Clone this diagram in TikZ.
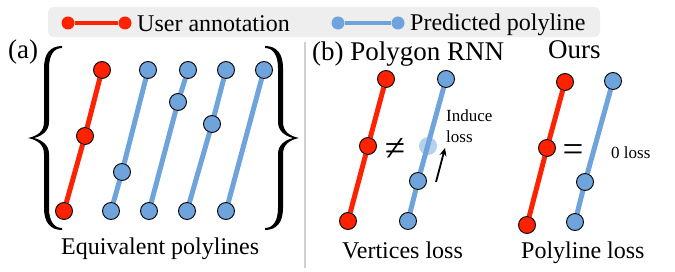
\documentclass[tikz,border=0pt]{standalone}
\usepackage{fontspec}
\setmainfont{Liberation Serif}
\usetikzlibrary{backgrounds,arrows.meta}
\definecolor{annred}{HTML}{FF2200}
\definecolor{predblue}{HTML}{6FA3DC}
\definecolor{legendgray}{HTML}{EEEEEE}
\definecolor{sepgray}{HTML}{D0D0D0}
\tikzset{
  dotbase/.style={circle, minimum size=17pt, inner sep=0pt, draw=black, line width=0.9pt},
  rdot/.style={dotbase, fill=annred},
  bdot/.style={dotbase, fill=predblue},
  lrdot/.style={circle, minimum size=13pt, inner sep=0pt, fill=annred},
  lbdot/.style={circle, minimum size=13pt, inner sep=0pt, fill=predblue},
  redline/.style={draw=annred, line width=5pt},
  blueline/.style={draw=predblue, line width=5pt},
  bigtxt/.style={font=\fontsize{27}{30}\selectfont, inner sep=0pt},
  midtxt/.style={font=\fontsize{24}{27}\selectfont, inner sep=0pt},
  smalltxt/.style={font=\fontsize{17}{20}\selectfont, inner sep=0pt},
  relsym/.style={font=\fontsize{37}{40}\selectfont, inner sep=0pt},
}
\def\mybracepath{(62,46) .. controls (50,46) and (44,54) .. (44,68) -- (44,122)
  .. controls (44,131) and (38,136) .. (28,138)
  .. controls (38,140) and (44,145) .. (44,154) -- (44,208)
  .. controls (44,222) and (50,230) .. (62,230)
  -- (62,228) .. controls (54,228) and (49,221) .. (49,208) -- (49,154)
  .. controls (49,145) and (42,140) .. (34,138)
  .. controls (42,136) and (49,131) .. (49,122) -- (49,68)
  .. controls (49,55) and (54,48) .. (62,48) -- cycle}
\begin{document}
\begin{tikzpicture}[x=1pt, y=-1pt]
\useasboundingbox (0,0) rectangle (675,272);

% legend
\node[lrdot] (l1) at (68,23) {};
\node[lrdot] (l2) at (125,23) {};
\node[midtxt, anchor=base west] (lt1) at (137,32) {User annotation};
\node[lbdot] (l3) at (338,23) {};
\node[lbdot] (l4) at (398,23) {};
\node[midtxt, anchor=base west] (lt2) at (410,31) {Predicted polyline};

% titles
\node[bigtxt, anchor=base west] (ta) at (8,59) {(a)};
\node[bigtxt, anchor=base west] (tb) at (312,61) {(b) Polygon RNN};
\node[bigtxt, anchor=base west] (to) at (548,59) {Ours};

% (a) polylines
\node[rdot] (r1) at (102,70) {};
\node[rdot] (r2) at (85,136) {};
\node[rdot] (r3) at (64,211) {};
\node[bdot] (p1a) at (148,70) {};
\node[bdot] (p1b) at (122,172) {};
\node[bdot] (p1c) at (111,211) {};
\node[bdot] (p2a) at (188,70) {};
\node[bdot] (p2b) at (178,102) {};
\node[bdot] (p2c) at (149,211) {};
\node[bdot] (p3a) at (226,70) {};
\node[bdot] (p3b) at (212,124) {};
\node[bdot] (p3c) at (187,211) {};
\node[bdot] (p4a) at (264,70) {};
\node[bdot] (p4c) at (226,211) {};

% braces
\fill[black] \mybracepath;
\begin{scope}[xshift=327pt, xscale=-1]
  \fill[black] \mybracepath;
\end{scope}

\node[midtxt, anchor=base west] (eq) at (61,255) {Equivalent polylines};

% separator
\draw[sepgray, line width=1.2pt] (305,42) -- (305,268);

% (b) Polygon RNN
\node[rdot] (b1r1) at (386,79) {};
\node[rdot] (b1r2) at (368,146) {};
\node[rdot] (b1r3) at (348,221) {};
\node[bdot] (b1p1) at (446,79) {};
\node[bdot] (b1p2) at (418,181) {};
\node[bdot] (b1p3) at (408,221) {};
\node[circle, minimum size=18pt, inner sep=0pt, fill=predblue, fill opacity=0.5] (ghost) at (428,146) {};
\node[relsym] (neq) at (395,149) {≠};
\coordinate (arrs) at (436,182);
\coordinate (arre) at (445,148);
\draw[-{Stealth[length=8pt,width=7pt]}, line width=1.8pt] (arrs) -- (arre);
\node[smalltxt, anchor=base west] (ind1) at (446,122) {Induce};
\node[smalltxt, anchor=base west] (ind2) at (446,143) {loss};
\node[midtxt, anchor=base west] (vl) at (342,259) {Vertices loss};

% (b) Ours
\node[rdot] (b2r1) at (565,82) {};
\node[rdot] (b2r2) at (547,148) {};
\node[rdot] (b2r3) at (527,225) {};
\node[bdot] (b2p1) at (613,81) {};
\node[bdot] (b2p2) at (585,182) {};
\node[bdot] (b2p3) at (575,222) {};
\node[relsym] (eqs) at (573,153) {=};
\node[smalltxt, anchor=base west] (zl) at (611,159) {0 loss};
\node[midtxt, anchor=base west] (pl) at (521,259) {Polyline loss};

\begin{scope}[on background layer]
  \fill[legendgray, rounded corners=5pt] (48,7) rectangle (600,37);
  \draw[draw=annred, line width=4pt] (l1) -- (l2);
  \draw[draw=predblue, line width=4pt] (l3) -- (l4);
  \draw[redline] (r1) -- (r2) -- (r3);
  \draw[blueline] (p1a) -- (p1b) -- (p1c);
  \draw[blueline] (p2a) -- (p2b) -- (p2c);
  \draw[blueline] (p3a) -- (p3b) -- (p3c);
  \draw[blueline] (p4a) -- (p4c);
  \draw[redline] (b1r1) -- (b1r2) -- (b1r3);
  \draw[blueline] (b1p1) -- (b1p2) -- (b1p3);
  \draw[redline] (b2r1) -- (b2r2) -- (b2r3);
  \draw[blueline] (b2p1) -- (b2p2) -- (b2p3);
\end{scope}
\end{tikzpicture}
\end{document}
